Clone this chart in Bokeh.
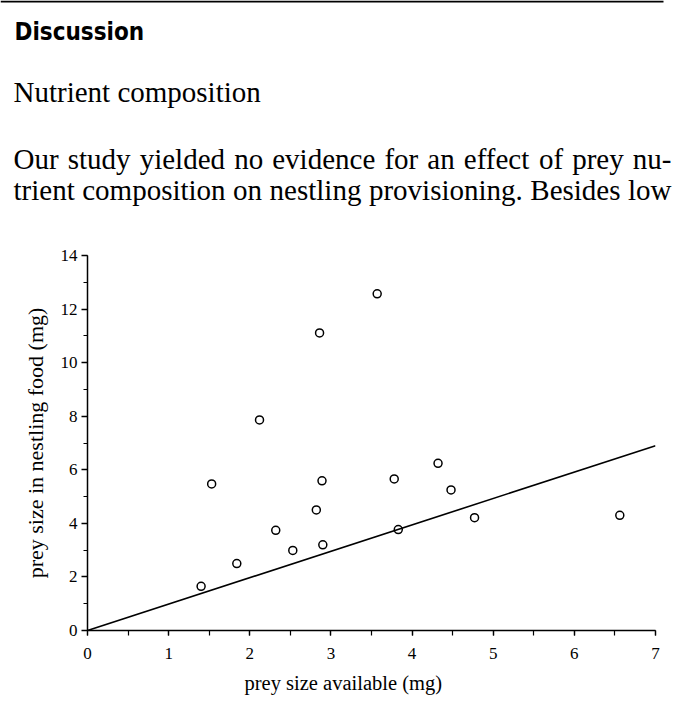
from bokeh.plotting import figure
from bokeh.layouts import column
from bokeh.models import Range1d, SingleIntervalTicker, Title
from bokeh.core.properties import value
from bokeh.embed import file_html
from bokeh.resources import INLINE

# ---------------- data ----------------
prey_available = [1.40, 1.53, 1.84, 2.12, 2.32, 2.53, 2.82, 2.86, 2.89, 2.90,
                  3.57, 3.78, 3.83, 4.32, 4.48, 4.77, 6.56]
prey_in_food = [1.65, 5.47, 2.50, 7.86, 3.74, 2.99, 4.50, 11.11, 5.59, 3.20,
                12.57, 5.66, 3.77, 6.24, 5.25, 4.21, 4.30]
ref_line_x = [0, 7]
ref_line_y = [0, 6.9]

heading = "Discussion"
subheading = "Nutrient composition"
body_lines = [
    "Our study yielded no evidence for an effect of prey nu-",
    "trient composition on nestling provisioning. Besides low",
]
x_title = "prey size available (mg)"
y_title = "prey size in nestling food (mg)"

SERIF = "Liberation Serif"
W = 672
TOP_H = 243
CH_H = 458

# Times metrics (1/1000 em) for justified text placement
TW = {' ': 250, 'O': 722, 'u': 500, 'r': 333, 's': 389, 't': 278, 'd': 500,
      'y': 500, 'i': 278, 'e': 444, 'l': 278, 'n': 500, 'o': 500, 'v': 500,
      'c': 444, 'f': 333, 'a': 444, 'p': 500, '-': 333, 'm': 778, 'g': 500,
      '.': 250, 'B': 667, 'w': 722, 'N': 722, 'z': 444, 'b': 500}


def text_width(s, size):
    return sum(TW.get(ch, 500) for ch in s) * size / 1000.0


# ---------------- top text block ----------------
top = figure(width=W, height=TOP_H, output_backend="svg", toolbar_location=None,
             x_range=Range1d(0, W), y_range=Range1d(TOP_H, 0),
             x_axis_type=None, y_axis_type=None, min_border=0, title=None)
top.frame_align = False
top.outline_line_color = None
top.xgrid.visible = False
top.ygrid.visible = False

top.line([0, 663], [1, 1], line_color="black", line_width=2)

top.text(x=[14], y=[31.5], text=[heading], text_font=value("DejaVu Sans Condensed"),
         text_font_style="bold", text_font_size=value("24px"),
         text_baseline="alphabetic", text_align="left", text_color="black")

top.text(x=[13], y=[91.5], text=[subheading], text_font=value(SERIF),
         text_font_size=value("29px"), text_baseline="alphabetic",
         text_align="left", text_color="black")

fs = 29
left_x, right_x = 13, 671
baselines = [158, 189]
wx, wy, wt = [], [], []
for line, by in zip(body_lines, baselines):
    words = line.split(" ")
    widths = [text_width(w, fs) for w in words]
    gap = (right_x - left_x - sum(widths)) / (len(words) - 1)
    cx = left_x
    for word, w in zip(words, widths):
        wx.append(cx)
        wy.append(by)
        wt.append(word)
        cx += w + gap
top.text(x=wx, y=wy, text=wt, text_font=value(SERIF),
         text_font_size=value("29px"), text_baseline="alphabetic",
         text_align="left", text_color="black")

# ---------------- chart ----------------
p = figure(width=W, height=CH_H, output_backend="svg", toolbar_location=None,
           x_range=Range1d(0, 7), y_range=Range1d(0, 14), title=None,
           min_border_left=87, min_border_right=W - 655, min_border_top=12,
           min_border_bottom=CH_H - 12 - 375)
p.frame_align = False
p.outline_line_color = None
p.xgrid.visible = False
p.ygrid.visible = False

p.line(ref_line_x, ref_line_y, line_color="black", line_width=1.6)
p.scatter(prey_available, prey_in_food, marker="circle", size=8,
          fill_color=None, line_color="black", line_width=1.5)

p.xaxis.ticker = SingleIntervalTicker(interval=1, num_minor_ticks=2)
p.yaxis.ticker = SingleIntervalTicker(interval=2, num_minor_ticks=2)

for ax in (p.xaxis[0], p.yaxis[0]):
    ax.axis_line_color = "black"
    ax.axis_line_width = 1.5
    ax.major_tick_line_color = "black"
    ax.minor_tick_line_color = "black"
    ax.major_tick_line_width = 1.3
    ax.minor_tick_line_width = 1.2
    ax.major_tick_in = 0
    ax.minor_tick_in = 0
    ax.major_label_text_font = SERIF
    ax.major_label_text_font_size = "17px"
    ax.major_label_text_color = "black"
    ax.axis_label_text_font = SERIF
    ax.axis_label_text_font_style = "normal"
    ax.axis_label_text_color = "black"

p.xaxis.major_tick_out = 5
p.xaxis.minor_tick_out = 5
p.xaxis.major_label_standoff = 12
p.yaxis.major_tick_out = 6
p.yaxis.minor_tick_out = 4
p.yaxis.major_label_standoff = 4
p.yaxis.axis_label = y_title
p.yaxis.axis_label_text_font_size = "22px"
p.yaxis.axis_label_standoff = 10

p.add_layout(Title(text=x_title, align="left", offset=157, standoff=16,
                   text_font=SERIF, text_font_size="20.5px",
                   text_font_style="normal", text_color="black"), "below")

layout = column(top, p, spacing=0)
open("out.html", "w").write(file_html(layout, INLINE))
